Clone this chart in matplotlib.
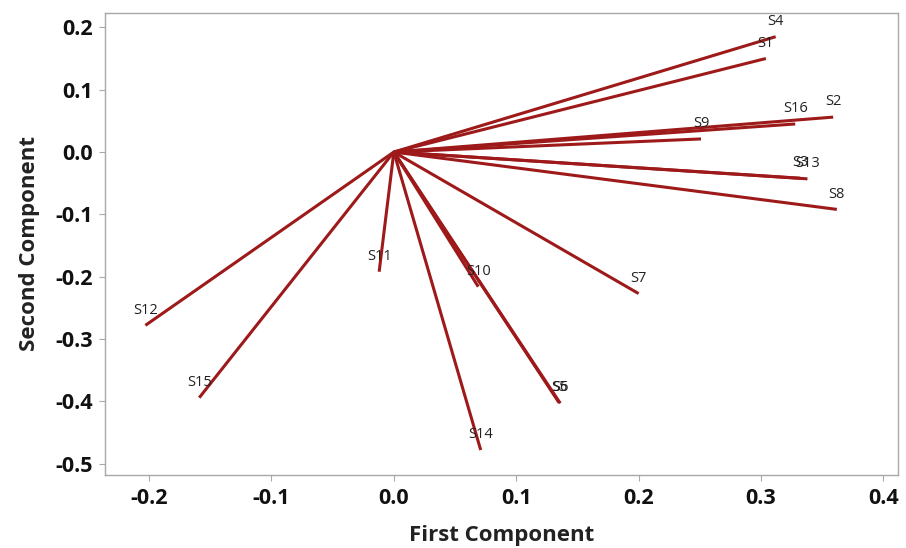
import matplotlib
matplotlib.use("Agg")
import matplotlib.pyplot as plt

plt.rcParams['font.family'] = ['Open Sans', 'DejaVu Sans']
plt.rcParams['axes.unicode_minus'] = False

# loadings
labels = ["S1", "S2", "S3", "S4", "S5", "S6", "S7", "S8",
          "S9", "S10", "S11", "S12", "S13", "S14", "S15", "S16"]
first = [0.304, 0.359, 0.332, 0.312, 0.135, 0.136, 0.200, 0.362,
         0.251, 0.069, -0.012, -0.203, 0.338, 0.071, -0.159, 0.328]
second = [0.150, 0.056, -0.042, 0.185, -0.402, -0.403, -0.227, -0.092,
          0.021, -0.216, -0.192, -0.278, -0.043, -0.478, -0.394, 0.045]

xticks = [-0.2, -0.1, 0.0, 0.1, 0.2, 0.3, 0.4]
yticks = [0.2, 0.1, 0.0, -0.1, -0.2, -0.3, -0.4, -0.5]

line_color = "#9E1A1A"
frame_color = "#A8A8A8"

fig = plt.figure(figsize=(9.06, 5.48), dpi=100, facecolor="white")
ax = fig.add_axes([0.1159, 0.1332, 0.8753, 0.8431])

for name, x, y in zip(labels, first, second):
    ax.plot([0, x], [0, y], color=line_color, linewidth=2.2, solid_capstyle="butt")
    ax.annotate(name, (x, y), xytext=(0, 8.5), textcoords="offset points",
                ha="center", va="baseline", fontsize=10.5, color="#222222")

ax.set_xlim(-0.236, 0.412)
ax.set_ylim(-0.518, 0.223)
ax.set_xticks(xticks)
ax.set_yticks(yticks)
ax.set_xticklabels([f"{t:.1f}" for t in xticks])
ax.set_yticklabels([f"{t:.1f}" for t in yticks])

for spine in ax.spines.values():
    spine.set_color(frame_color)
    spine.set_linewidth(1.0)

ax.tick_params(axis="both", direction="out", length=4, width=0.8, color=frame_color,
               labelsize=15.5, labelcolor="#111111", pad=5)
for lab in ax.get_xticklabels() + ax.get_yticklabels():
    lab.set_fontweight("bold")

ax.set_xlabel("First Component", fontsize=16, fontweight="bold", color="#222222", labelpad=12)
ax.set_ylabel("Second Component", fontsize=16, fontweight="bold", color="#222222", labelpad=11)

fig.savefig("out.png", dpi=100, facecolor="white")
